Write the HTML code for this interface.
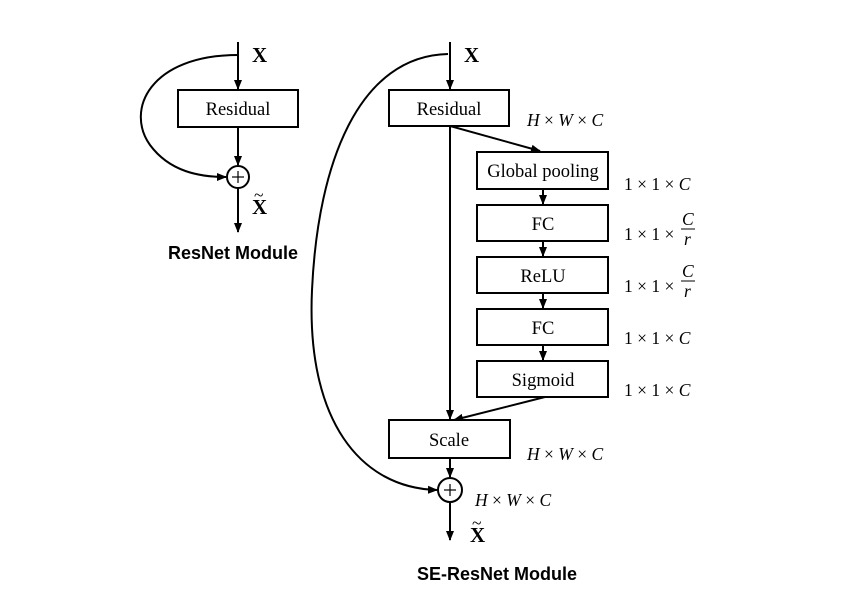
<!DOCTYPE html>
<html><head><style>
html,body{margin:0;padding:0;background:#fff}
svg{display:block}
.t{font-family:"Liberation Serif",serif;font-size:18.5px;fill:#000}
.m{font-family:"Liberation Serif",serif;font-size:17.5px;fill:#000}
.b{font-family:"Liberation Sans",sans-serif;font-size:18px;font-weight:bold;fill:#000}
.x{font-family:"Liberation Serif",serif;font-size:21px;font-weight:bold;fill:#000}
</style></head><body>
<svg width="859" height="612" viewBox="0 0 859 612" xmlns="http://www.w3.org/2000/svg">
<defs><marker id="a" markerWidth="10" markerHeight="10" refX="9" refY="5" orient="auto" markerUnits="userSpaceOnUse"><path d="M0,1 L10,5 L0,9 Z" fill="#000"/></marker></defs>
<g stroke="#000" stroke-width="2" fill="none">
<line x1="238" y1="42" x2="238" y2="89" marker-end="url(#a)"/>
<rect x="178" y="90" width="120" height="37" fill="#fff"/>
<line x1="238" y1="127" x2="238" y2="165" marker-end="url(#a)"/>
<circle cx="238" cy="177" r="11"/>
<line x1="238" y1="188" x2="238" y2="232" marker-end="url(#a)"/>
<path d="M238,55 C150,55 125,110 150,145 C170,172 200,177 226,177" marker-end="url(#a)"/>
<line x1="450" y1="42" x2="450" y2="89" marker-end="url(#a)"/>
<rect x="389" y="90" width="120" height="36" fill="#fff"/>
<line x1="450" y1="126" x2="450" y2="419" marker-end="url(#a)"/>
<line x1="450" y1="126" x2="540" y2="151" marker-end="url(#a)"/>
<rect x="477" y="152" width="131" height="37"/>
<line x1="543" y1="189" x2="543" y2="204" marker-end="url(#a)"/>
<rect x="477" y="205" width="131" height="36"/>
<line x1="543" y1="241" x2="543" y2="256" marker-end="url(#a)"/>
<rect x="477" y="257" width="131" height="36"/>
<line x1="543" y1="293" x2="543" y2="308" marker-end="url(#a)"/>
<rect x="477" y="309" width="131" height="36"/>
<line x1="543" y1="345" x2="543" y2="360" marker-end="url(#a)"/>
<rect x="477" y="361" width="131" height="36"/>
<line x1="545" y1="397" x2="454" y2="420" marker-end="url(#a)"/>
<rect x="389" y="420" width="121" height="38" fill="#fff"/>
<line x1="450" y1="458" x2="450" y2="477" marker-end="url(#a)"/>
<circle cx="450" cy="490" r="12"/>
<line x1="450" y1="502" x2="450" y2="540" marker-end="url(#a)"/>
<path d="M448,54 C360,56 318,160 312,290 C306,420 360,488 437,490" marker-end="url(#a)"/>
<line x1="232" y1="177" x2="244" y2="177" stroke-width="1.2"/>
<line x1="238" y1="171" x2="238" y2="183" stroke-width="1.2"/>
<line x1="444" y1="490" x2="456" y2="490" stroke-width="1.2"/>
<line x1="450" y1="484" x2="450" y2="496" stroke-width="1.2"/>
<line x1="681" y1="229" x2="695" y2="229" stroke-width="1"/>
<line x1="681" y1="281" x2="695" y2="281" stroke-width="1"/>
</g>
<text class="x" x="252" y="62">X</text>
<text class="x" x="252" y="214">X</text><text class="m" x="254" y="201">~</text>
<text class="t" x="238" y="115" text-anchor="middle">Residual</text>
<text class="b" x="233" y="259" text-anchor="middle">ResNet Module</text>
<text class="x" x="464" y="62">X</text>
<text class="x" x="470" y="542">X</text><text class="m" x="472" y="529">~</text>
<text class="t" x="449" y="115" text-anchor="middle">Residual</text>
<text class="t" x="543" y="177" text-anchor="middle">Global pooling</text>
<text class="t" x="543" y="230" text-anchor="middle">FC</text>
<text class="t" x="543" y="282" text-anchor="middle">ReLU</text>
<text class="t" x="543" y="334" text-anchor="middle">FC</text>
<text class="t" x="543" y="386" text-anchor="middle">Sigmoid</text>
<text class="t" x="449" y="446" text-anchor="middle">Scale</text>
<text class="b" x="497" y="580" text-anchor="middle">SE-ResNet Module</text>
<text class="m" x="527" y="126"><tspan font-style="italic">H</tspan> × <tspan font-style="italic">W</tspan> × <tspan font-style="italic">C</tspan></text>
<text class="m" x="624" y="190">1 × 1 × <tspan font-style="italic">C</tspan></text>
<text class="m" x="624" y="240">1 × 1 ×</text><text class="m" x="682" y="225" font-style="italic">C</text><text class="m" x="684" y="245" font-style="italic">r</text>
<text class="m" x="624" y="292">1 × 1 ×</text><text class="m" x="682" y="277" font-style="italic">C</text><text class="m" x="684" y="297" font-style="italic">r</text>
<text class="m" x="624" y="344">1 × 1 × <tspan font-style="italic">C</tspan></text>
<text class="m" x="624" y="396">1 × 1 × <tspan font-style="italic">C</tspan></text>
<text class="m" x="527" y="460"><tspan font-style="italic">H</tspan> × <tspan font-style="italic">W</tspan> × <tspan font-style="italic">C</tspan></text>
<text class="m" x="475" y="506"><tspan font-style="italic">H</tspan> × <tspan font-style="italic">W</tspan> × <tspan font-style="italic">C</tspan></text>
</svg>
</body></html>
